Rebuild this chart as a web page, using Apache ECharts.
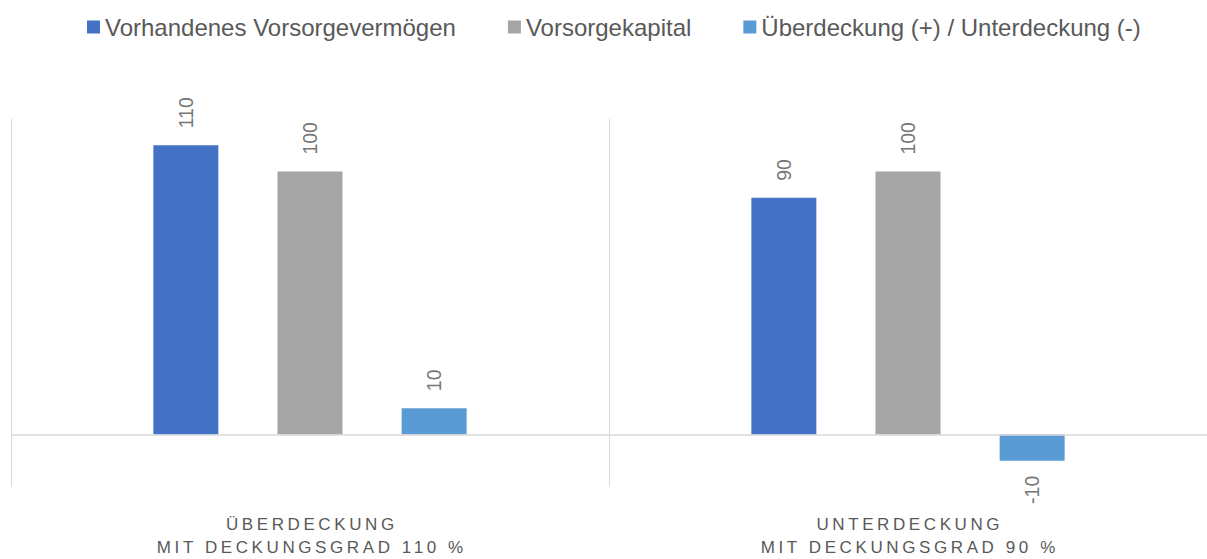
<!DOCTYPE html>
<html>
<head>
<meta charset="utf-8">
<script src="https://cdn.jsdelivr.net/npm/echarts@6/dist/echarts.min.js"></script>
<style>html,body{margin:0;padding:0;background:#fff}#c{width:1207px;height:559px}</style>
</head>
<body>
<div id="c"></div>
<script>
const categories = ['ÜBERDECKUNG\nMIT DECKUNGSGRAD 110 %', 'UNTERDECKUNG\nMIT DECKUNGSGRAD 90 %'];
const seriesNames = ['Vorhandenes Vorsorgevermögen', 'Vorsorgekapital', 'Überdeckung (+) / Unterdeckung (-)'];
const vermoegen = [110, 90];
const kapital = [100, 100];
const deckung = [10, -10];
const colors = ['#4472C4', '#A5A5A5', '#5B9BD5'];

const FONT = '"Liberation Sans", Arial, sans-serif';
const CAT_SPACING = 3.6;

function items(arr) {
  return arr.map(v => ({
    value: v,
    label: {
      position: v < 0 ? 'bottom' : 'top',
      align: v < 0 ? 'right' : 'left',
      distance: v < 0 ? 15 : 17
    }
  }));
}
function mk(name, arr, color, withZero) {
  const s = {
    name: name,
    type: 'bar',
    data: items(arr),
    barWidth: 65,
    barGap: '91%',
    itemStyle: { color: color },
    label: {
      show: true, rotate: 90, verticalAlign: 'middle',
      color: '#767676', fontSize: 19.5, fontFamily: FONT
    },
    emphasis: { disabled: true }
  };
  if (withZero) {
    s.markLine = {
      silent: true, symbol: 'none', label: { show: false },
      lineStyle: { color: '#d9d9d9', width: 1.5, type: 'solid' },
      data: [{ yAxis: 0 }]
    };
  }
  return s;
}
const chart = echarts.init(document.getElementById('c'), null, { renderer: 'svg' });
chart.setOption({
  animation: false,
  color: colors,
  legend: {
    left: 82, top: 10, itemWidth: 13, itemHeight: 13, itemGap: 52,
    icon: 'rect',
    textStyle: { color: '#595959', fontSize: 24, fontFamily: FONT },
    data: seriesNames
  },
  grid: { left: 11, top: 119, width: 1198, bottom: 69, containLabel: false },
  xAxis: {
    type: 'category', data: categories,
    axisLine: { show: false, onZero: false }, axisTick: { show: false },
    splitLine: { show: true, interval: 0, lineStyle: { color: '#d9d9d9', width: 1 } },
    axisLabel: { color: '#595959', fontSize: 17, lineHeight: 23, margin: 26, fontFamily: FONT, interval: 0 }
  },
  yAxis: { type: 'value', min: -20, max: 120, interval: 20, show: false, splitLine: { show: false } },
  series: [
    mk(seriesNames[0], vermoegen, colors[0], true),
    mk(seriesNames[1], kapital, colors[1], false),
    mk(seriesNames[2], deckung, colors[2], false)
  ]
});

// widen the category label lettering (character spacing), styling only
function spaceCategoryLabels() {
  const lines = new Set(categories.join('\n').split('\n'));
  document.querySelectorAll('#c svg text').forEach(t => {
    if (lines.has(t.textContent.trim()) && !t.dataset.spaced) {
      t.style.letterSpacing = CAT_SPACING + 'px';
      t.setAttribute('dx', CAT_SPACING / 2);
      t.dataset.spaced = '1';
    }
  });
}
spaceCategoryLabels();
chart.on('finished', spaceCategoryLabels);
setTimeout(spaceCategoryLabels, 50);
</script>
</body>
</html>
